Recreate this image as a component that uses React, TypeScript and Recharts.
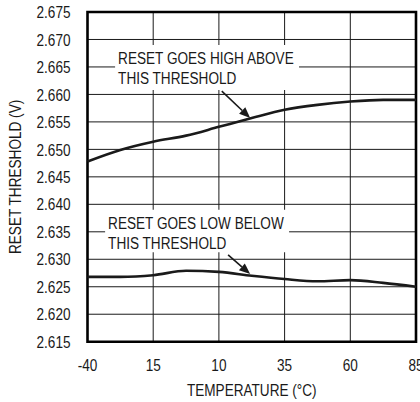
import React from "react";
import {
  LineChart,
  Line,
  XAxis,
  YAxis,
  CartesianGrid,
  ReferenceArea,
  ReferenceLine,
} from "recharts";

const temps = [-40, -27.5, -15, -2.5, 10, 22.5, 35, 47.5, 60, 72.5, 85];
const highThreshold = [2.6478, 2.6499, 2.6514, 2.6525, 2.6541, 2.6557, 2.6572, 2.6581, 2.6587, 2.659, 2.659];
const lowThreshold = [2.6268, 2.6268, 2.6271, 2.6279, 2.6277, 2.627, 2.6264, 2.626, 2.6262, 2.6257, 2.625];

const xTicks = [-40, -15, 10, 35, 60, 85];
const xTickLabels = ["-40", "15", "10", "35", "60", "85"];
const yTicks = [2.615, 2.62, 2.625, 2.63, 2.635, 2.64, 2.645, 2.65, 2.655, 2.66, 2.665, 2.67, 2.675];

const highNote = ["RESET GOES HIGH ABOVE", "THIS THRESHOLD"];
const lowNote = ["RESET GOES LOW BELOW", "THIS THRESHOLD"];
const xTitle = "TEMPERATURE (°C)";
const yTitle = "RESET THRESHOLD (V)";

const data = temps.map((t, i) => ({ t, high: highThreshold[i], low: lowThreshold[i] }));

const FONT = "'Liberation Sans', Arial, sans-serif";
const FS = 17;
const SX = 0.8;
const INK = "#1a1a1a";

const Narrow = ({ x, y, anchor, children, dy }: any) => (
  <text
    transform={`translate(${x},${y}) scale(${SX},1)`}
    x={0}
    y={0}
    dy={dy || 0}
    textAnchor={anchor || "start"}
    fontFamily={FONT}
    fontSize={FS}
    fill={INK}
  >
    {children}
  </text>
);

const XTick = (props: any) => {
  const { x, y, payload } = props;
  const idx = xTicks.indexOf(payload.value);
  return (
    <Narrow x={x} y={y} anchor="middle" dy="0.71em">
      {xTickLabels[idx]}
    </Narrow>
  );
};

const YTick = (props: any) => {
  const { x, y, payload } = props;
  return (
    <Narrow x={x} y={y} anchor="end" dy="0.36em">
      {Number(payload.value).toFixed(3)}
    </Narrow>
  );
};

const NoteLabel = (lines: string[]) => (props: any) => {
  const vb = props.viewBox || {};
  return (
    <g>
      {lines.map((l, i) => (
        <Narrow key={i} x={vb.x + 3} y={vb.y + 19 + i * 20}>
          {l}
        </Narrow>
      ))}
    </g>
  );
};

const Arrow = (props: any) => {
  const { x1, y1, x2, y2 } = props;
  if (x1 == null) return null;
  const dx = x2 - x1;
  const dy = y2 - y1;
  const len = Math.sqrt(dx * dx + dy * dy);
  const ux = dx / len;
  const uy = dy / len;
  const hl = 11;
  const hw = 4.5;
  const bx = x2 - ux * hl;
  const by = y2 - uy * hl;
  const px = -uy;
  const py = ux;
  return (
    <g>
      <line x1={x1} y1={y1} x2={bx} y2={by} stroke={INK} strokeWidth={1.6} />
      <polygon
        points={`${x2},${y2} ${bx + px * hw},${by + py * hw} ${bx - px * hw},${by - py * hw}`}
        fill={INK}
      />
    </g>
  );
};

const YTitle = () => {
  const cy = 176.9;
  return (
    <text
      transform={`translate(15,${cy}) rotate(-90) scale(${SX},1)`}
      x={0}
      y={0}
      textAnchor="middle"
      dy="0.36em"
      fontFamily={FONT}
      fontSize={FS}
      fill={INK}
    >
      {yTitle}
    </text>
  );
};

const XTitle = (props: any) => {
  const vb = props.viewBox || {};
  return (
    <Narrow x={vb.x + vb.width / 2} y={396} anchor="middle">
      {xTitle}
    </Narrow>
  );
};

export default function App() {
  return (
    <div style={{ position: "absolute", left: 0, top: 0, background: "#fff" }}>
      <LineChart
        width={420}
        height={402}
        data={data}
        margin={{ top: 12, right: 4, bottom: 0, left: 0 }}
      >
        <CartesianGrid stroke={INK} strokeWidth={1} />
        <XAxis
          dataKey="t"
          type="number"
          domain={[-40, 85]}
          ticks={xTicks}
          tickLine={false}
          axisLine={false}
          tickSize={0}
          tickMargin={17}
          height={60.3}
          tick={<XTick />}
          interval={0}
          label={<XTitle />}
        />
        <YAxis
          type="number"
          domain={[2.615, 2.675]}
          ticks={yTicks}
          tickLine={false}
          axisLine={false}
          tickSize={0}
          tickMargin={17}
          width={87.5}
          tick={<YTick />}
          interval={0}
          label={<YTitle />}
        />
        <ReferenceArea
          x1={-29.5}
          x2={40.5}
          y1={2.6608}
          y2={2.669}
          fill="#fff"
          fillOpacity={1}
          stroke="none"
          label={NoteLabel(highNote)}
        />
        <ReferenceArea
          x1={-33.3}
          x2={36.7}
          y1={2.6313}
          y2={2.639}
          fill="#fff"
          fillOpacity={1}
          stroke="none"
          label={NoteLabel(lowNote)}
        />
        <Line
          dataKey="high"
          type="monotone"
          stroke={INK}
          strokeWidth={2.6}
          dot={false}
          isAnimationActive={false}
        />
        <Line
          dataKey="low"
          type="monotone"
          stroke={INK}
          strokeWidth={2.6}
          dot={false}
          isAnimationActive={false}
        />
        <ReferenceLine
          segment={[
            { x: 11.1, y: 2.6606 },
            { x: 21.9, y: 2.6557 },
          ]}
          shape={Arrow}
          ifOverflow="visible"
        />
        <ReferenceLine
          segment={[
            { x: 13.5, y: 2.6308 },
            { x: 21.9, y: 2.6273 },
          ]}
          shape={Arrow}
          ifOverflow="visible"
        />
        <ReferenceArea
          x1={-40}
          x2={85}
          y1={2.615}
          y2={2.675}
          fill="none"
          stroke="#000"
          strokeWidth={2.6}
          ifOverflow="visible"
        />
      </LineChart>
    </div>
  );
}
